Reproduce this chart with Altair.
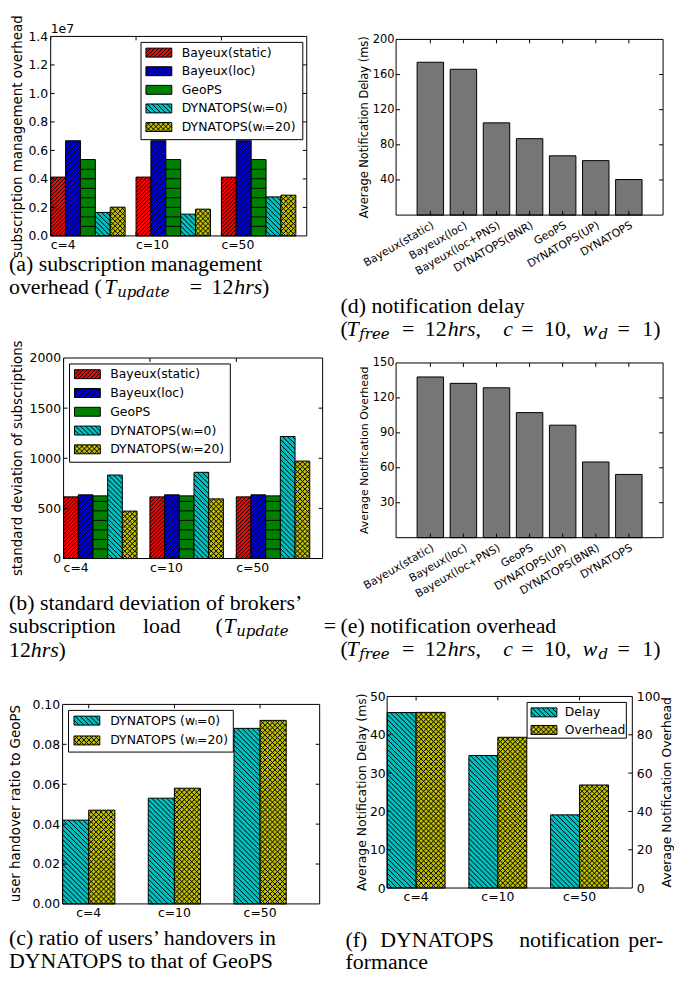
import math
import altair as alt

# ------------------------------------------------------------------ data
groups = ["c=4", "c=10", "c=50"]

series_ab = ["Bayeux(static)", "Bayeux(loc)", "GeoPS", "DYNATOPS(wₗ=0)", "DYNATOPS(wₗ=20)"]

# (a) subscription management overhead, in units of 1e7
a_bayeux_static = [0.413, 0.413, 0.413]
a_bayeux_loc = [0.668, 0.668, 0.668]
a_geops = [0.536, 0.536, 0.536]
a_dynatops_w0 = [0.165, 0.153, 0.274]
a_dynatops_w20 = [0.202, 0.188, 0.286]
a_ticks = [0.0, 0.2, 0.4, 0.6, 0.8, 1.0, 1.2, 1.4]

# (b) standard deviation of subscriptions
b_bayeux_static = [615, 615, 615]
b_bayeux_loc = [635, 635, 635]
b_geops = [625, 625, 625]
b_dynatops_w0 = [833, 860, 1217]
b_dynatops_w20 = [473, 595, 972]
b_ticks = [0, 500, 1000, 1500, 2000]

# (c) user handover ratio to GeoPS
series_c = ["DYNATOPS (wₗ=0)", "DYNATOPS (wₗ=20)"]
c_dynatops_w0 = [0.042, 0.053, 0.088]
c_dynatops_w20 = [0.047, 0.058, 0.092]
c_ticks = [0.0, 0.02, 0.04, 0.06, 0.08, 0.10]

# (d) average notification delay (ms)
d_systems = ["Bayeux(static)", "Bayeux(loc)", "Bayeux(loc+PNS)", "DYNATOPS(BNR)",
             "GeoPS", "DYNATOPS(UP)", "DYNATOPS"]
d_delay = [174, 166, 105, 87, 67.5, 62, 40.5]
d_ticks = [40, 80, 120, 160, 200]

# (e) average notification overhead
e_systems = ["Bayeux(static)", "Bayeux(loc)", "Bayeux(loc+PNS)", "GeoPS",
             "DYNATOPS(UP)", "DYNATOPS(BNR)", "DYNATOPS"]
e_overhead = [138, 132.5, 128.7, 107.4, 96.6, 65, 54.3]
e_ticks = [30, 60, 90, 120, 150]

# (f) DYNATOPS notification performance
series_f = ["Delay", "Overhead"]
f_delay = [45.8, 34.6, 19.1]
f_overhead = [91.7, 78.7, 53.8]
f_delay_ticks = [0, 10, 20, 30, 40, 50]
f_overhead_ticks = [0, 20, 40, 60, 80, 100]

# ------------------------------------------------------------------ style
SANS = "DejaVu Sans"
SERIF = "Liberation Serif"
SUBFONT = "DejaVu Serif"
CAP = 22
SUB = 15
RED, BLUE, GREEN, CYAN, YELLOW, GRAY = "#ff0000", "#0000ff", "#008000", "#00bfbf", "#bfbf00", "#767676"
# hatch families: (direction, spacing in px measured along a horizontal (or vertical for '-'))
H_RED = [("/", 4.0)]
H_BLUE = [("/", 3.0)]
H_GREEN = [("-", 9.6)]
H_CYAN = [("\\", 5.0)]
H_YEL = [("/", 5.0), ("\\", 5.0)]
HATCH_W = 1.0
DUMMY = alt.Data(values=[{"k": 0}])


def hatch_path(w, h, hatches):
    """Hatch lines of a w x h bar as an SVG path in symbol units (centre at 0,0)."""
    w = max(w, 0.5)
    h = max(h, 0.5)
    hw, hh = w / 2, h / 2
    s = max(w, h) / 2
    segs = []
    for kind, period in hatches:
        if kind == "-":
            n = 1
            while n * period < h - 0.3:
                y = hh - n * period
                segs.append((-hw, y, hw, y))
                n += 1
        elif kind == "/":          # lines x + y = c (screen y downwards)
            c = -hw + hh
            while c > -hw - hh:
                c -= period
            while c < hw + hh:
                lo, hi = max(-hw, c - hh), min(hw, c + hh)
                if hi - lo > 0.05:
                    segs.append((lo, c - lo, hi, c - hi))
                c += period
        else:                      # lines x - y = c
            c = -hw - hh
            while c < hw + hh:
                lo, hi = max(-hw, c - hh), min(hw, c + hh)
                if hi - lo > 0.05:
                    segs.append((lo, lo - c, hi, hi - c))
                c += period
    if not segs:
        return "M0,0Z", (2 * s) ** 2
    p = "".join(f"M{x1 / s:.4f},{y1 / s:.4f}L{x2 / s:.4f},{y2 / s:.4f}" for x1, y1, x2, y2 in segs)
    return p, (2 * s) ** 2


def txt(o, s, x, y, size, font=SANS, italic=False, angle=None, align="left", baseline="middle"):
    props = {"text": s, "font": font, "fontSize": size, "color": "black",
             "align": align, "baseline": baseline}
    if italic:
        props["fontStyle"] = "italic"
    if angle is not None:
        props["angle"] = angle
    return alt.Chart(DUMMY).mark_text(**props).encode(x=alt.value(x - o[0]), y=alt.value(y - o[1]))


def caption(o, y, segs):
    out = []
    for s, x, kind in segs:
        if kind == "s":
            out.append(txt(o, s, x, y + 5, SUB, SUBFONT, italic=True))
        else:
            out.append(txt(o, s, x, y, CAP, SERIF, italic=(kind == "i")))
    return out


def vtitle(o, s, x, y, size):
    return txt(o, s, x, y, size, SANS, angle=270, align="center", baseline="middle")


def frame(o, plot):
    x0, x1, y0, y1 = plot
    return alt.Chart(DUMMY).mark_rect(fillOpacity=0, stroke="black", strokeWidth=1).encode(
        x=alt.value(x0 - o[0]), x2=alt.value(x1 - o[0]),
        y=alt.value(y0 - o[1]), y2=alt.value(y1 - o[1]))


def yscale(o, plot, ymax):
    return alt.Scale(domain=[0, ymax], range=[plot[3] - o[1], plot[2] - o[1]], nice=False, zero=True)


def yaxis(o, plot, size, ticks, fmt, orient="left", W=0, pad=3):
    if orient == "left":
        off = -(plot[0] - o[0])
    else:
        off = -(W - (plot[1] - o[0]))
    return alt.Axis(orient=orient, offset=off, values=ticks, format=fmt, domain=False,
                    ticks=False, tickSize=0, grid=False, labelPadding=pad, labelFont=SANS,
                    labelFontSize=size, labelColor="black", title=None)


def xaxis(o, plot, H, size, **kw):
    off = -(H - (plot[3] - o[1]))
    return alt.Axis(orient="bottom", offset=off, domain=False, ticks=False, tickSize=0,
                    grid=False, labelFont=SANS, labelFontSize=size, labelColor="black",
                    title=None, **kw)


def ytick_marks(o, plot, ticks, ys, sides=("l", "r")):
    d = alt.Data(values=[{"t": t} for t in ticks])
    x0 = plot[0] - o[0]
    x1 = plot[1] - o[0]
    out = []
    for side in sides:
        a, b = (x0, x0 + 4) if side == "l" else (x1 - 4, x1)
        out.append(alt.Chart(d).mark_rule(color="black", strokeWidth=1).encode(
            y=alt.Y("t:Q", scale=ys, axis=None), x=alt.value(a), x2=alt.value(b)))
    return out


def xtick_marks(o, plot, field, cats, xs, xax, band_pos):
    d = alt.Data(values=[{field: c} for c in cats])
    y0 = plot[2] - o[1]
    y1 = plot[3] - o[1]
    xenc = alt.X(field + ":N", scale=xs, axis=xax, bandPosition=band_pos)
    return [
        alt.Chart(d).mark_rule(color="black", strokeWidth=1).encode(x=xenc, y=alt.value(y0), y2=alt.value(y0 + 4)),
        alt.Chart(d).mark_rule(color="black", strokeWidth=1).encode(x=xenc, y=alt.value(y1 - 4), y2=alt.value(y1)),
    ]


def hatch_layer(rows, xs, xax, xo, ys):
    return alt.Chart(alt.Data(values=rows)).mark_point(
        filled=False, stroke="black", strokeWidth=HATCH_W, opacity=1).encode(
        x=alt.X("g:N", scale=xs, axis=xax), xOffset=xo,
        y=alt.Y("vm:Q", scale=ys, axis=None),
        shape=alt.Shape("path:N", scale=None),
        size=alt.Size("sz:Q", scale=None))


def bar_rows(group, series, v, hpx, w, hatches, color=None):
    p, sz = hatch_path(w, v * hpx, hatches)
    r = {"g": group, "s": series, "v": v, "vm": v / 2, "path": p, "sz": sz}
    if color is not None:
        r["col"] = color
    return r


def legend(o, box, labels, colors, hatches, sx, rows_y, lx, fsize, sw=26, sh=9):
    bx0, bx1, by0, by1 = box
    out = [alt.Chart(DUMMY).mark_rect(fill="white", stroke="black", strokeWidth=1).encode(
        x=alt.value(bx0 - o[0]), x2=alt.value(bx1 - o[0]),
        y=alt.value(by0 - o[1]), y2=alt.value(by1 - o[1]))]
    rows = []
    for i, lab in enumerate(labels):
        p, sz = hatch_path(sw, sh, hatches[i])
        rows.append({"i": i, "lab": lab, "col": colors[i], "path": p, "sz": sz})
    d = alt.Data(values=rows)
    n = len(labels)
    ly = alt.Y("i:Q", scale=alt.Scale(domain=[0, n - 1], range=[rows_y[0] - o[1], rows_y[-1] - o[1]],
                                      nice=False, zero=False), axis=None)
    r = round(sh / sw, 4)
    shape = f"M-1,{-r}H1V{r}H-1Z"
    out.append(alt.Chart(d).mark_point(shape=shape, size=sw * sw, filled=True, stroke="black",
                                       strokeWidth=1, opacity=1).encode(
        x=alt.value(sx - o[0]), y=ly, fill=alt.Fill("col:N", scale=None)))
    out.append(alt.Chart(d).mark_point(filled=False, stroke="black", strokeWidth=HATCH_W,
                                       opacity=1).encode(
        x=alt.value(sx - o[0]), y=ly, shape=alt.Shape("path:N", scale=None),
        size=alt.Size("sz:Q", scale=None)))
    out.append(alt.Chart(d).mark_text(align="left", baseline="middle", font=SANS, fontSize=fsize,
                                      color="black").encode(
        x=alt.value(lx - o[0]), y=ly, text="lab:N"))
    return out


def grouped_layers(o, size, plot, series, values, colors, hatches, ymax, ticks, fmt, lab_size,
                   pi, left_labels):
    W, H = size
    lx0, lx1 = plot[0] - o[0], plot[1] - o[0]
    ly0, ly1 = plot[2] - o[1], plot[3] - o[1]
    step = (lx1 - lx0) / len(groups)
    band = step * (1 - pi)
    wbar = band / len(series)
    hpx = (ly1 - ly0) / ymax
    rows = []
    for si, s in enumerate(series):
        for gi, g in enumerate(groups):
            rows.append(bar_rows(g, s, values[si][gi], hpx, wbar, hatches[si], colors[si]))
    data = alt.Data(values=rows)
    xs = alt.Scale(domain=groups, range=[lx0, lx1], paddingInner=pi, paddingOuter=pi / 2, align=0)
    if left_labels:
        xax = xaxis(o, plot, H, lab_size, labelAlign="left", labelOffset=-band / 2,
                    labelPadding=3, labelAngle=0)
        tick_band = 0
    else:
        xax = xaxis(o, plot, H, lab_size, labelAlign="center", labelPadding=3, labelAngle=0)
        tick_band = 0.5
    ys = yscale(o, plot, ymax)
    xo = alt.XOffset("s:N", scale=alt.Scale(domain=series))
    layers = [alt.Chart(data).mark_bar(stroke="black", strokeWidth=1, opacity=1).encode(
        x=alt.X("g:N", scale=xs, axis=xax),
        xOffset=xo,
        y=alt.Y("v:Q", scale=ys, stack=None, axis=yaxis(o, plot, lab_size, ticks, fmt)),
        fill=alt.Fill("col:N", scale=None))]
    layers.append(hatch_layer(rows, xs, xax, xo, ys))
    layers.append(frame(o, plot))
    layers += ytick_marks(o, plot, ticks[1:-1], ys)
    layers += xtick_marks(o, plot, "g", groups, xs, xax, tick_band)
    return layers


def single_layers(o, size, plot, cats, vals, ymax, ticks, pi, po):
    W, H = size
    lx0, lx1 = plot[0] - o[0], plot[1] - o[0]
    data = alt.Data(values=[{"sys": c, "v": v} for c, v in zip(cats, vals)])
    xs = alt.Scale(domain=cats, range=[lx0, lx1], paddingInner=pi, paddingOuter=po, align=0.5)
    xax = xaxis(o, plot, H, 11, labelAngle=330, labelAlign="right", labelBaseline="top",
                labelPadding=4, labelOverlap=False)
    ys = yscale(o, plot, ymax)
    base = alt.Chart(data).mark_bar(fill=GRAY, stroke="black", strokeWidth=1, opacity=1).encode(
        x=alt.X("sys:N", scale=xs, sort=cats, axis=xax),
        y=alt.Y("v:Q", scale=ys, axis=yaxis(o, plot, 11.5, ticks, "d", pad=2)))
    layers = [base, frame(o, plot)]
    layers += ytick_marks(o, plot, ticks[:-1], ys)
    layers += xtick_marks(o, plot, "sys", cats, xs, xax, 0.5)
    return layers


def cell(layers, size):
    return alt.layer(*layers).resolve_scale(y="independent").properties(width=size[0], height=size[1])


# ------------------------------------------------------------------ (a)
oa, sa, pa = (8, 8), (332, 332), (50, 308, 33, 234)
la = grouped_layers(oa, sa, pa, series_ab,
                    [a_bayeux_static, a_bayeux_loc, a_geops, a_dynatops_w0, a_dynatops_w20],
                    [RED, BLUE, GREEN, CYAN, YELLOW], [H_RED, H_BLUE, H_GREEN, H_CYAN, H_YEL],
                    1.4, a_ticks, ".1f", 12.5, 1 - 75 / 86, True)
la += legend(oa, (141, 304, 39, 137), series_ab, [RED, BLUE, GREEN, CYAN, YELLOW],
             [H_RED, H_BLUE, H_GREEN, H_CYAN, H_YEL], 159, [49.3, 68, 86.7, 105.3, 124.3], 182, 12.5)
la.append(txt(oa, "1e7", 50, 26, 12.5))
la.append(vtitle(oa, "subscription management overhead", 17, 134, 13.5))
la += caption(oa, 262, [("(a) subscription management", 8, "n")])
la += caption(oa, 286, [("overhead (", 8, "n"), ("T", 104, "i"), ("update", 117, "s"),
                        ("=", 190, "n"), ("12", 212, "n"), ("hrs", 235, "i"), (")", 263, "n")])
cell_a = cell(la, sa)

# ------------------------------------------------------------------ (b)
ob, sb, pb = (8, 340), (332, 320), (63, 324, 357, 559)
lb = grouped_layers(ob, sb, pb, series_ab,
                    [b_bayeux_static, b_bayeux_loc, b_geops, b_dynatops_w0, b_dynatops_w20],
                    [RED, BLUE, GREEN, CYAN, YELLOW], [H_RED, H_BLUE, H_GREEN, H_CYAN, H_YEL],
                    2000, b_ticks, "d", 12.5, 1 - 74 / 87, True)
lb += legend(ob, (69, 231, 363, 462), series_ab, [RED, BLUE, GREEN, CYAN, YELLOW],
             [H_RED, H_BLUE, H_GREEN, H_CYAN, H_YEL], 87, [373.3, 392.3, 411, 430, 449], 110, 12.5)
lb.append(vtitle(ob, "standard deviation of subscriptions", 17, 458, 13.5))
lb += caption(ob, 604, [("(b) standard deviation of brokers’", 8, "n")])
lb += caption(ob, 627, [("subscription", 8, "n"), ("load", 143, "n"), ("(", 216, "n"), ("T", 224, "i"),
                        ("update", 237, "s"), ("=", 325, "n")])
lb += caption(ob, 651, [("12", 8, "n"), ("hrs", 30, "i"), (")", 58, "n")])
cell_b = cell(lb, sb)

# ------------------------------------------------------------------ (c)
oc, sc, pc = (8, 660), (332, 320), (62, 321, 706, 907)
lc = grouped_layers(oc, sc, pc, series_c, [c_dynatops_w0, c_dynatops_w20], [CYAN, YELLOW],
                    [H_CYAN, H_YEL], 0.1, c_ticks, ".2f", 12.5, 1 - 52.6 / 86.3, False)
lc += legend(oc, (68, 234, 712, 754), series_c, [CYAN, YELLOW], [H_CYAN, H_YEL], 86.5,
             [722.3, 742.3], 110, 12.5)
lc.append(vtitle(oc, "user handover ratio to GeoPS", 15, 806, 13.5))
lc += caption(oc, 941, [("(c) ratio of users’ handovers in", 8, "n")])
lc += caption(oc, 965, [("DYNATOPS to that of GeoPS", 8, "n")])
cell_c = cell(lc, sc)

# ------------------------------------------------------------------ (d)
T_FREE = [("(", 342, "n"), ("T", 348, "i"), ("free", 361, "s"), ("=", 404, "n"), ("12", 427, "n"),
          ("hrs", 450, "i"), (",", 478, "n"), ("c", 506, "i"), ("=", 524, "n"), ("10,", 547, "n"),
          ("w", 586, "i"), ("d", 602, "s"), ("=", 621, "n"), ("1)", 646, "n")]
od, sd, pd_ = (340, 8), (334, 332), (398, 667, 36, 213)
ld = single_layers(od, sd, pd_, d_systems, d_delay, 200, d_ticks, 0.2, 0.635)
ld.append(vtitle(od, "Average Notification Delay (ms)", 367, 124.5, 11.5))
ld += caption(od, 305, [("(d) notification delay", 342, "n")])
ld += caption(od, 328, T_FREE)
cell_d = cell(ld, sd)

# ------------------------------------------------------------------ (e)
oe, se, pe = (340, 340), (334, 320), (398, 667, 362, 538)
le = single_layers(oe, se, pe, e_systems, e_overhead, 150, e_ticks, 0.2, 0.635)
le.append(vtitle(oe, "Average Notification Overhead", 367, 450, 11))
le += caption(oe, 627, [("(e) notification overhead", 342, "n")])
le += caption(oe, 650, T_FREE)
cell_e = cell(le, se)

# ------------------------------------------------------------------ (f)
of, sf, pf = (340, 660), (334, 320), (389, 636, 698, 891)
W, H = sf
flx0, flx1 = pf[0] - of[0], pf[1] - of[0]
fly0, fly1 = pf[2] - of[1], pf[3] - of[1]
f_pi = 1 - 58.3 / 82.3
f_wbar = (flx1 - flx0) / 3 * (1 - f_pi) / 2
hpx_d = (fly1 - fly0) / 50
hpx_o = (fly1 - fly0) / 100
rows_d = [bar_rows(g, "Delay", v, hpx_d, f_wbar, H_CYAN) for g, v in zip(groups, f_delay)]
rows_o = [bar_rows(g, "Overhead", v, hpx_o, f_wbar, H_YEL) for g, v in zip(groups, f_overhead)]
f_xs = alt.Scale(domain=groups, range=[flx0, flx1], paddingInner=f_pi, paddingOuter=f_pi / 2, align=0)
f_xax = xaxis(of, pf, H, 12.5, labelAngle=0, labelPadding=3)
f_xo = alt.XOffset("s:N", scale=alt.Scale(domain=series_f))
ys_d = yscale(of, pf, 50)
ys_o = yscale(of, pf, 100)
lf = [
    alt.Chart(alt.Data(values=rows_d)).mark_bar(fill=CYAN, stroke="black", strokeWidth=1, opacity=1).encode(
        x=alt.X("g:N", scale=f_xs, axis=f_xax),
        xOffset=f_xo,
        y=alt.Y("v:Q", scale=ys_d, stack=None, axis=yaxis(of, pf, 12.5, f_delay_ticks, "d", pad=2))),
    hatch_layer(rows_d, f_xs, f_xax, f_xo, ys_d),
    alt.Chart(alt.Data(values=rows_o)).mark_bar(fill=YELLOW, stroke="black", strokeWidth=1, opacity=1).encode(
        x=alt.X("g:N", scale=f_xs, axis=f_xax), xOffset=f_xo,
        y=alt.Y("v:Q", scale=ys_o, stack=None,
                axis=yaxis(of, pf, 12.5, f_overhead_ticks, "d", orient="right", W=W, pad=4))),
    hatch_layer(rows_o, f_xs, f_xax, f_xo, ys_o),
]
lf.append(frame(of, pf))
lf += ytick_marks(of, pf, f_delay_ticks[1:-1], ys_d, sides=("l",))
lf += ytick_marks(of, pf, f_overhead_ticks[1:-1], ys_o, sides=("r",))
lf += xtick_marks(of, pf, "g", groups, f_xs, f_xax, 0.5)
lf += legend(of, (530, 630, 704, 740), series_f, [CYAN, YELLOW], [H_CYAN, H_YEL], 547,
             [714, 731.7], 568, 12.5)
lf.append(vtitle(of, "Average Notification Delay (ms)", 364, 794.5, 12.5))
lf.append(vtitle(of, "Average Notification Overhead", 671, 794.5, 12.5))
lf += caption(of, 943, [("(f)", 347, "n"), ("DYNATOPS", 382, "n"), ("notification", 522, "n"),
                        ("per-", 632, "n")])
lf += caption(of, 966, [("formance", 347, "n")])
cell_f = cell(lf, sf)

# ------------------------------------------------------------------ figure
chart = alt.concat(cell_a, cell_d, cell_b, cell_e, cell_c, cell_f,
                   columns=2, spacing=0, bounds="flush").resolve_scale(
    xOffset="independent", fill="independent", shape="independent",
    size="independent").properties(padding=0).configure_view(strokeWidth=0)

chart.save("out.html", embed_options={"renderer": "svg", "actions": False})
